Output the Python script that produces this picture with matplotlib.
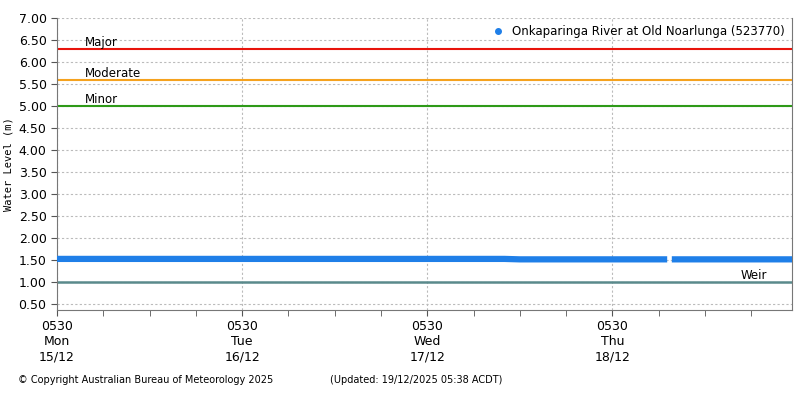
import matplotlib
matplotlib.use("Agg")
import matplotlib.pyplot as plt
import numpy as np
from matplotlib.lines import Line2D

# hours since 0530 Mon 15/12
hours = list(range(0, 80, 2)) + [79.1, 79.3, 79.7] + list(range(80, 96, 2)) + [95.3]
levels = [1.53,1.53,1.53,1.53,1.53,1.53,1.53,1.53,1.53,1.53,1.53,1.53,
          1.53,1.53,1.53,1.53,1.53,1.53,1.53,1.53,1.53,1.53,1.53,1.53,
          1.53,1.53,1.53,1.53,1.53,1.53,1.52,1.52,1.52,1.52,1.52,1.52,
          1.52,1.52,1.52,1.52,
          1.52, None, 1.52,
          1.52,1.52,1.52,1.52,1.52,1.52,1.52,1.52,
          1.52]
thresholds = {"Major": (6.30, "#e8140c"), "Moderate": (5.60, "#f5a21e"), "Minor": (5.00, "#2e9a18")}
weir = 1.00
day_labels = ["0530\nMon\n15/12", "0530\nTue\n16/12", "0530\nWed\n17/12", "0530\nThu\n18/12"]

fig = plt.figure(figsize=(8, 4), dpi=100)
ax = fig.add_axes([57/800, 1-310/400, 735/800, 292/400])
x = np.array(hours, float) / 24
y = np.array([np.nan if v is None else v for v in levels])
ax.plot(x, y, color="#1f7fe8", lw=4.5, solid_capstyle="butt", zorder=3)
for name, (val, c) in thresholds.items():
    ax.axhline(val, color=c, lw=1.5, zorder=2)
    ax.text(0.15, val + 0.0, name, fontsize=8.5, va="bottom", ha="left")
ax.axhline(weir, color="#5a8a8c", lw=1.8, zorder=2)
ax.text(3.69, weir, "Weir", fontsize=8.5, va="bottom")

ax.set_xlim(0, 3.97)
ax.set_ylim(0.37, 7.0)
ax.set_yticks(np.arange(0.5, 7.01, 0.5))
ax.set_yticklabels([f"{v:.2f}" for v in np.arange(0.5, 7.01, 0.5)], fontsize=9)
ax.set_xticks(range(4))
ax.set_xticklabels(day_labels, fontsize=9)
ax.set_xticks(np.arange(0, 3.97, 0.25), minor=True)
ax.tick_params(which="both", direction="out", length=4, color="#555")
ax.grid(True, which="major", color="#bbbbbb", ls=(0, (2, 2)), lw=0.8)
ax.spines["top"].set_visible(False)
for s in ["left", "bottom", "right"]:
    ax.spines[s].set_color("#777")
ax.set_ylabel("Water Level (m)", fontsize=7.5, family="DejaVu Sans Mono")
h = Line2D([], [], marker="o", ls="", color="#1f7fe8", markersize=4)
ax.legend([h], ["Onkaparinga River at Old Noarlunga (523770)"], loc="upper right",
          frameon=False, fontsize=8.5, handletextpad=0.2, borderaxespad=0.2)
fig.text(18/800, 1-380/400, "© Copyright Australian Bureau of Meteorology 2025", fontsize=7, va="center")
fig.text(330/800, 1-380/400, "(Updated: 19/12/2025 05:38 ACDT)", fontsize=7, va="center")
fig.savefig("out.png")
